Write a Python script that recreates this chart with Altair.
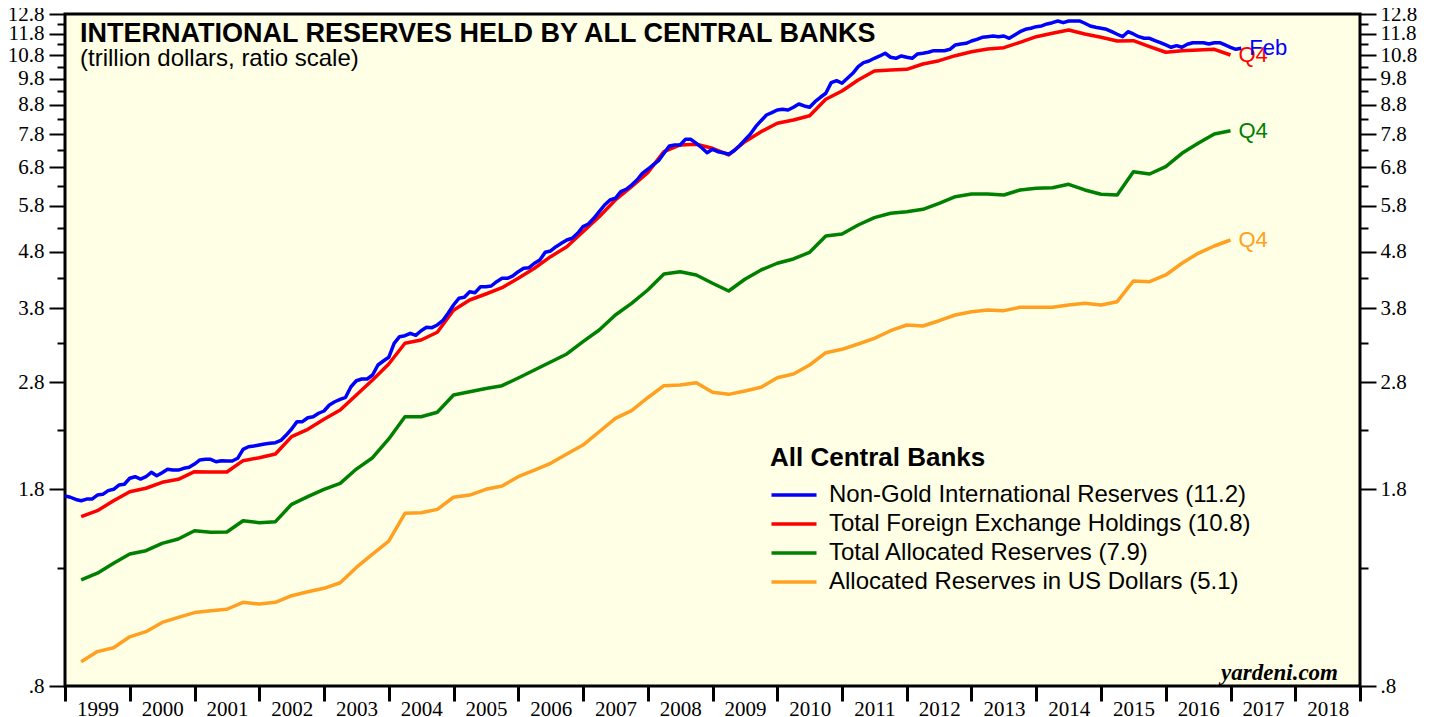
import altair as alt
import pandas as pd

# ---------------- data ----------------
SERIES = [
    "Non-Gold International Reserves (11.2)",
    "Total Foreign Exchange Holdings (10.8)",
    "Total Allocated Reserves (7.9)",
    "Allocated Reserves in US Dollars (5.1)",
]
COLORS = ["#0000FF", "#FF0000", "#008000", "#FFA020"]
END_LABELS = ["Feb", "Q4", "Q4", "Q4"]

YEARS = list(range(1999, 2020))
Y_MAJOR = [0.8, 1.8, 2.8, 3.8, 4.8, 5.8, 6.8, 7.8, 8.8, 9.8, 10.8, 11.8, 12.8]
Y_MINOR = [1.3, 2.3, 3.3, 4.3, 5.3, 6.3, 7.3, 8.3, 9.3, 10.3, 11.3, 12.3]

BLUE_START = 1999.0    # monthly, month-end Dec 1998 .. Feb 2017
QTR_START = 1999.25    # quarterly, Q1 1999 .. Q4 2016

non_gold = [
    1.752, 1.743, 1.727, 1.718, 1.730, 1.730, 1.759, 1.764, 1.791, 1.801,
    1.833, 1.839, 1.885, 1.897, 1.879, 1.897, 1.932, 1.905, 1.929, 1.956,
    1.950, 1.950, 1.964, 1.972, 1.999, 2.033, 2.038, 2.038, 2.018, 2.027,
    2.024, 2.024, 2.047, 2.124, 2.147, 2.153, 2.162, 2.171, 2.178, 2.183,
    2.203, 2.253, 2.310, 2.381, 2.381, 2.420, 2.430, 2.465, 2.488, 2.550,
    2.585, 2.611, 2.633, 2.750, 2.819, 2.839, 2.839, 2.886, 3.008, 3.058,
    3.105, 3.290, 3.381, 3.395, 3.428, 3.400, 3.465, 3.514, 3.509, 3.548,
    3.611, 3.723, 3.853, 3.961, 3.978, 4.070, 4.054, 4.155, 4.155, 4.167,
    4.242, 4.302, 4.302, 4.343, 4.421, 4.483, 4.494, 4.577, 4.639, 4.789,
    4.815, 4.901, 4.970, 5.038, 5.074, 5.180, 5.323, 5.382, 5.510, 5.662,
    5.821, 5.942, 5.984, 6.149, 6.211, 6.321, 6.453, 6.634, 6.745, 6.866,
    6.988, 7.205, 7.425, 7.456, 7.456, 7.633, 7.633, 7.508, 7.373, 7.223,
    7.325, 7.253, 7.223, 7.175, 7.283, 7.434, 7.611, 7.792, 8.041, 8.242,
    8.438, 8.519, 8.614, 8.639, 8.614, 8.711, 8.830, 8.758, 8.711, 8.915,
    9.078, 9.229, 9.642, 9.722, 9.618, 9.818, 10.023, 10.300, 10.471, 10.545,
    10.663, 10.765, 10.885, 10.707, 10.663, 10.765, 10.707, 10.663, 10.854, 10.885,
    10.930, 11.002, 11.002, 11.002, 11.066, 11.264, 11.311, 11.343, 11.451, 11.531,
    11.627, 11.656, 11.690, 11.656, 11.690, 11.579, 11.739, 11.900, 12.018, 12.068,
    12.148, 12.183, 12.284, 12.350, 12.437, 12.350, 12.437, 12.437, 12.437, 12.320,
    12.183, 12.118, 12.068, 12.018, 11.900, 11.773, 11.656, 11.900, 11.787, 11.656,
    11.579, 11.579, 11.465, 11.370, 11.264, 11.157, 11.231, 11.157, 11.296, 11.370,
    11.370, 11.370, 11.311, 11.370, 11.370, 11.264, 11.157, 11.066, 11.111,
]

fx_holdings = [
    1.609, 1.649, 1.718, 1.783,
    1.809, 1.854, 1.877, 1.937,
    1.934, 1.934, 2.027, 2.052,
    2.084, 2.238, 2.307, 2.404,
    2.498, 2.658, 2.827, 3.020,
    3.290, 3.335, 3.443, 3.770,
    3.933, 4.032, 4.138, 4.302,
    4.483, 4.703, 4.901, 5.214,
    5.547, 5.942, 6.278, 6.651,
    7.253, 7.456, 7.478, 7.355,
    7.155, 7.558, 7.877, 8.154,
    8.266, 8.414, 9.003, 9.317,
    9.749, 10.118, 10.160, 10.189,
    10.415, 10.557, 10.777, 10.957,
    11.079, 11.139, 11.390, 11.656,
    11.821, 11.983, 11.787, 11.627,
    11.451, 11.465, 11.185, 10.930,
    11.002, 11.034, 11.066, 10.809,
]

total_allocated = [
    1.239, 1.274, 1.327, 1.379,
    1.398, 1.441, 1.467, 1.518,
    1.508, 1.510, 1.582, 1.569,
    1.576, 1.693, 1.747, 1.801,
    1.846, 1.958, 2.052, 2.217,
    2.430, 2.430, 2.475, 2.658,
    2.694, 2.730, 2.762, 2.851,
    2.947, 3.046, 3.148, 3.312,
    3.475, 3.697, 3.880, 4.099,
    4.379, 4.421, 4.361, 4.214,
    4.082, 4.284, 4.452, 4.577,
    4.659, 4.789, 5.122, 5.165,
    5.360, 5.524, 5.625, 5.662,
    5.719, 5.862, 6.024, 6.091,
    6.091, 6.066, 6.193, 6.236,
    6.252, 6.340, 6.193, 6.084,
    6.066, 6.678, 6.615, 6.818,
    7.205, 7.508, 7.802, 7.909,
]

allocated_usd = [
    0.884, 0.922, 0.937, 0.980,
    1.001, 1.040, 1.062, 1.083,
    1.091, 1.098, 1.130, 1.122,
    1.130, 1.161, 1.180, 1.197,
    1.225, 1.305, 1.378, 1.455,
    1.631, 1.635, 1.658, 1.743,
    1.759, 1.801, 1.826, 1.897,
    1.950, 2.005, 2.084, 2.162,
    2.284, 2.414, 2.491, 2.628,
    2.762, 2.770, 2.796, 2.688,
    2.665, 2.702, 2.744, 2.854,
    2.898, 3.008, 3.165, 3.209,
    3.280, 3.358, 3.465, 3.548,
    3.533, 3.611, 3.697, 3.748,
    3.774, 3.764, 3.817, 3.817,
    3.817, 3.853, 3.880, 3.853,
    3.906, 4.254, 4.242, 4.361,
    4.577, 4.769, 4.915, 5.038,
]

TITLE = "INTERNATIONAL RESERVES HELD BY ALL CENTRAL BANKS"
SUBTITLE = "(trillion dollars, ratio scale)"
CREDIT = "yardeni.com"


def frame(values, start, step, name, label):
    return pd.DataFrame({
        "t": [start + i * step for i in range(len(values))],
        "v": values,
        "series": name,
        "label": label,
    })


# drawing order: orange, green, red, blue (blue on top)
df = pd.concat([
    frame(allocated_usd, QTR_START, 0.25, SERIES[3], END_LABELS[3]),
    frame(total_allocated, QTR_START, 0.25, SERIES[2], END_LABELS[2]),
    frame(fx_holdings, QTR_START, 0.25, SERIES[1], END_LABELS[1]),
    frame(non_gold, BLUE_START, 1 / 12, SERIES[0], END_LABELS[0]),
], ignore_index=True)
last = df.groupby("series", sort=False).tail(1)

# ---------------- chart ----------------
W, H = 1295, 672
SERIF = "Liberation Serif"
SANS = "Liberation Sans"

xs = alt.Scale(domain=[1999, 2019], nice=False, zero=False)
ys = alt.Scale(type="log", domain=[0.8, 12.8], nice=False)
cs = alt.Scale(domain=SERIES, range=COLORS)

YLAB = "datum.value < 1 ? '.8' : format(datum.value, '.1f')"


def y_axis(orient, values, size, labels=True):
    kw = dict(orient=orient, values=values, tickSize=size, tickWidth=2,
              tickColor="black", domain=False, grid=False, title=None,
              labels=labels)
    if labels:
        kw.update(labelExpr=YLAB, labelFont=SERIF, labelFontSize=21,
                  labelColor="black", labelPadding=5 if orient == "left" else 4,
                  labelOverlap=False, labelFlush=False)
    return alt.Axis(**kw)


x_axis = alt.Axis(
    orient="bottom", values=YEARS, format="d",
    labelExpr="datum.value < 2019 ? datum.label : ''",
    labelOffset=W / 40, tickSize=15, tickWidth=3, tickColor="black",
    domain=False, grid=False, title=None, labelFont=SERIF, labelFontSize=21,
    labelColor="black", labelPadding=-3, labelOverlap=False, labelFlush=False,
)

legend = alt.Legend(
    orient="none", legendX=705, legendY=431, direction="vertical",
    title="All Central Banks", titleFont=SANS, titleFontSize=26,
    titleFontWeight="bold", titleColor="black", titlePadding=12,
    titleLimit=800,
    labelFont=SANS, labelFontSize=24, labelColor="black", labelLimit=800,
    symbolType="M-1.4,0H4.6", symbolSize=225, symbolStrokeWidth=3.5,
    labelOffset=35, rowPadding=5, padding=0,
)

lines = alt.Chart(df).mark_line(strokeWidth=3.5, strokeJoin="round", clip=True).encode(
    x=alt.X("t:Q", scale=xs, axis=x_axis),
    y=alt.Y("v:Q", scale=ys, axis=y_axis("left", Y_MAJOR, 16)),
    color=alt.Color("series:N", scale=cs, legend=legend),
)


def axis_layer(axis):
    return alt.Chart(df).mark_point(opacity=0, size=1).encode(
        x=alt.X("t:Q", scale=xs, axis=None),
        y=alt.Y("v:Q", scale=ys, axis=axis),
    )


minor_left = axis_layer(y_axis("left", Y_MINOR, 8, labels=False))
major_right = axis_layer(y_axis("right", Y_MAJOR, 16))
minor_right = axis_layer(y_axis("right", Y_MINOR, 8, labels=False))

end_labels = alt.Chart(last).mark_text(
    align="left", baseline="middle", dx=8, font=SANS, fontSize=22
).encode(
    x=alt.X("t:Q", scale=xs, axis=None),
    y=alt.Y("v:Q", scale=ys, axis=None),
    text="label:N",
    color=alt.Color("series:N", scale=cs, legend=None),
)

title = alt.Chart(pd.DataFrame({"text": [TITLE]})).mark_text(
    align="left", baseline="alphabetic", font=SANS, fontSize=27,
    fontWeight="bold", color="black"
).encode(x=alt.value(15), y=alt.value(28), text="text:N")

subtitle = alt.Chart(pd.DataFrame({"text": [SUBTITLE]})).mark_text(
    align="left", baseline="alphabetic", font=SANS, fontSize=24, color="black"
).encode(x=alt.value(15), y=alt.value(52), text="text:N")

credit = alt.Chart(pd.DataFrame({"text": [CREDIT]})).mark_text(
    align="right", baseline="alphabetic", font=SERIF, fontSize=23,
    fontWeight="bold", fontStyle="italic", color="black"
).encode(x=alt.value(W - 22), y=alt.value(H - 6), text="text:N")

chart = alt.layer(
    lines, minor_left, major_right, minor_right, end_labels, title, subtitle, credit
).resolve_axis(
    y="independent", x="independent"
).properties(
    width=W, height=H,
    padding={"left": 57, "top": 6, "right": 66, "bottom": 31},
    autosize=alt.AutoSizeParams(type="none"),
    background="white",
).configure_view(
    fill="#FFFFE6", stroke="black", strokeWidth=3
)

chart.save("out.html", embed_options={"renderer": "svg", "actions": False})
